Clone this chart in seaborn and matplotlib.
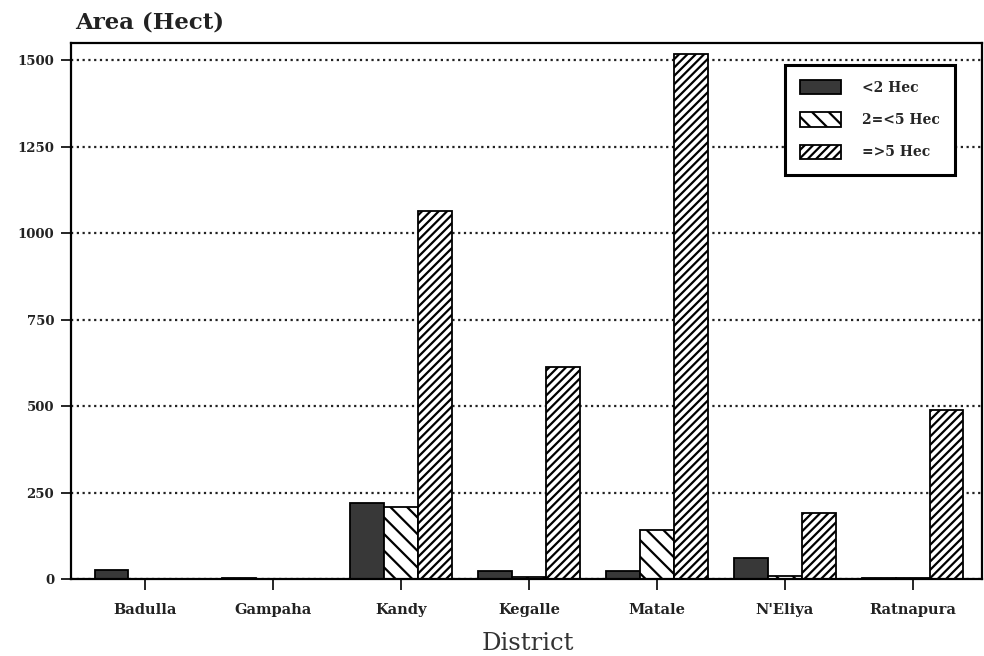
import matplotlib
matplotlib.use("Agg")
import matplotlib.pyplot as plt
from matplotlib.patches import Patch
import seaborn as sns
import pandas as pd

districts = ["Badulla", "Gampaha", "Kandy", "Kegalle", "Matale", "N'Eliya", "Ratnapura"]
size_classes = ["<2 Hec", "2=<5 Hec", "=>5 Hec"]
lt2 = [26, 3, 220, 24, 22, 62, 4]
from2to5 = [0, 0, 208, 6, 142, 8, 4]
ge5 = [0, 0, 1064, 614, 1518, 190, 490]
yticks = [0, 250, 500, 750, 1000, 1250, 1500]

rows = []
for cls, vals in zip(size_classes, [lt2, from2to5, ge5]):
    for d, v in zip(districts, vals):
        rows.append({"District": d, "Size": cls, "Area": v})
df = pd.DataFrame(rows)

sns.set_style("ticks")
plt.rcParams["font.family"] = ["DejaVu Serif"]
plt.rcParams["hatch.linewidth"] = 1.6
plt.rcParams["hatch.color"] = "black"

fig = plt.figure(figsize=(9.84, 6.56), dpi=100)
ax = fig.add_axes([0.072, 0.1174, 0.926, 0.8171])

fills = ["#383838", "white", "white"]
hatches = [None, "\\\\", "////"]

sns.barplot(data=df, x="District", y="Area", hue="Size", hue_order=size_classes,
            order=districts, palette=fills, saturation=1, width=0.79,
            edgecolor="black", linewidth=1.3, legend=False, ax=ax)

for cont, h in zip(ax.containers, hatches):
    for p in cont.patches:
        if h:
            p.set_hatch(h)

ax.set_xlim(-0.58, 6.54)
ax.set_ylim(0, 1550)
ax.set_yticks(yticks)
ax.set_yticklabels([str(t) for t in yticks])
ax.yaxis.grid(True, linestyle=(0, (1, 1.6)), linewidth=1.6, color="#222222")
ax.set_axisbelow(True)
for s in ax.spines.values():
    s.set_visible(True)
    s.set_linewidth(1.6)
    s.set_color("black")

ax.tick_params(axis="y", length=7, width=1.4, pad=5, direction="out")
ax.tick_params(axis="x", length=8, width=1.4, pad=9, direction="out")
for lab in ax.get_yticklabels():
    lab.set_fontweight("bold")
    lab.set_fontsize(9.5)
    lab.set_color("#222222")
for lab in ax.get_xticklabels():
    lab.set_fontweight("bold")
    lab.set_fontsize(10.5)
    lab.set_color("#222222")

ax.set_xlabel("")
ax.set_ylabel("")

fig.text(75 / 984, 1 - 22 / 656, "Area (Hect)", fontsize=16.5, fontweight="bold",
         ha="left", va="center", color="#222222")
fig.text(528 / 984, 1 - 644 / 656, "District", fontsize=17.5, ha="center", va="center",
         color="#333333")

handles = [Patch(facecolor=f, edgecolor="black", hatch=h, linewidth=1.3)
           for f, h in zip(fills, hatches)]
leg = ax.legend(handles, size_classes, loc="upper right", bbox_to_anchor=(0.970, 0.959),
                frameon=True, fancybox=False, shadow=False, handlelength=2.9,
                handleheight=1.2, labelspacing=1.25, borderpad=1.1, handletextpad=1.5,
                borderaxespad=0,
                prop={"weight": "bold", "size": 10, "family": "DejaVu Serif"})
leg.get_frame().set_edgecolor("black")
leg.get_frame().set_linewidth(2.2)
leg.get_frame().set_alpha(1)

fig.savefig("out.png", dpi=100)
